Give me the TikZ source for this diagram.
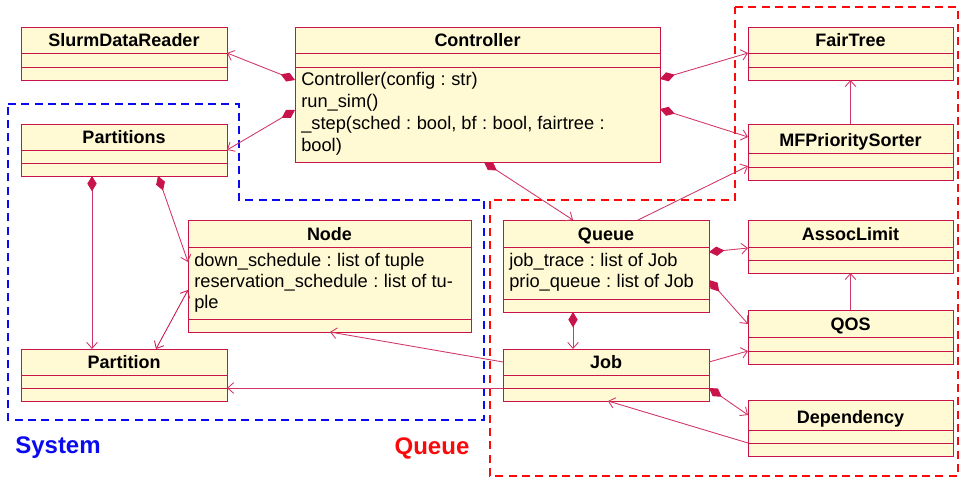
\documentclass[tikz,border=0pt]{standalone}
\usepackage{fontspec}
\setmainfont{Liberation Sans}
\usetikzlibrary{arrows.meta,calc,fit}

\definecolor{umlfill}{RGB}{255,249,212}
\definecolor{umlline}{RGB}{200,20,75}
\definecolor{sysblue}{RGB}{10,10,240}
\definecolor{queuered}{RGB}{250,10,10}

\tikzset{
  clsbox/.style={draw=umlline, line width=0.6pt, fill=umlfill, inner sep=0pt, outer sep=0pt},
  clsrule/.style={draw=umlline, line width=0.6pt},
  clstitle/.style={font=\fontsize{13.5}{15}\selectfont\bfseries, anchor=base, inner sep=0pt},
  clstext/.style={font=\fontsize{13.7}{16}\selectfont, anchor=base west, align=left, inner sep=0pt},
  assoc/.style={draw=umlline!85, line width=0.65pt, -{Straight Barb[length=4.5pt,width=8pt]}},
  compo/.style={draw=umlline!85, line width=0.65pt,
    {Diamond[length=11.5pt,width=7pt,fill=umlline,color=umlline]}-{Straight Barb[length=4.5pt,width=8pt]}},
  both/.style={draw=umlline, line width=0.65pt,
    {Straight Barb[length=4.5pt,width=8pt]}-{Straight Barb[length=4.5pt,width=8pt]}},
  group/.style={line width=1.2pt, dash pattern=on 6pt off 4pt},
  grouplabel/.style={font=\fontsize{18}{20}\selectfont\bfseries, inner sep=0pt}
}

% typed member separator
\newcommand\oftype{\hspace{0.3em}:\hspace{0.3em}}

% #1 name, #2/#3 top-left, #4/#5 bottom-right, #6/#7 divider offsets from the top, #8 class name
\newcommand\umlclass[8]{%
  \node[clsbox, fit={(#2,#3) (#4,#5)}] (#1) {};
  \draw[clsrule] ($(#1.north west)+(0,#6)$) -- ($(#1.north east)+(0,#6)$);
  \draw[clsrule] ($(#1.north west)+(0,#7)$) -- ($(#1.north east)+(0,#7)$);
  \node[clstitle] (#1-title) at ($(#1.north)+(0,#6-6.5)$) {#8};
}

\begin{document}
\begin{tikzpicture}[x=0.75pt, y=-0.75pt]
\useasboundingbox (0,0) rectangle (964,477);

% package frames
\draw[group, sysblue] (8,104) -- (239,104) -- (239,200) -- (484,200) -- (484,420) -- (8,420) -- cycle;
\draw[group, queuered] (735,7) -- (958,7) -- (958,476) -- (490,476) -- (490,200) -- (735,200) -- cycle;
\node[grouplabel, text=sysblue] (syslabel) at (58,448) {System};
\node[grouplabel, text=queuered] (queuelabel) at (432,448) {Queue};

% classes
\umlclass{sdr}{21}{27}{227}{80}{26}{40}{SlurmDataReader}
\umlclass{ctrl}{295}{27}{660}{162}{26}{40}{Controller}
\umlclass{parts}{21}{124}{227}{176}{26}{39}{Partitions}
\umlclass{node}{188}{220}{471}{332}{27}{99}{Node}
\umlclass{part}{21}{349}{227}{401}{26}{39}{Partition}
\umlclass{fair}{748}{27}{953}{80}{26}{40}{FairTree}
\umlclass{mfp}{748}{124}{953}{180}{29}{43}{MFPrioritySorter}
\umlclass{queue}{503}{220}{709}{312}{27}{79}{Queue}
\umlclass{assocl}{748}{220}{953}{273}{27}{40}{AssocLimit}
\umlclass{qos}{748}{310}{953}{364}{27}{41}{QOS}
\umlclass{job}{503}{349}{709}{401}{26}{39}{Job}
\umlclass{dep}{748}{400}{953}{456}{30}{43}{Dependency}

% compartments with members (placed by the baseline of their last line)
\node[clstext, font=\fontsize{13.7}{16.5}\selectfont] (ctrl-ops) at ($(ctrl.north west)+(6,125)$)
  {Controller(config\oftype str)\\run\_sim()\\\_step(sched\oftype bool, bf\oftype bool, fairtree\oftype\\bool)};
\node[clstext] (node-attrs) at ($(node.north west)+(6,89)$)
  {down\_schedule\oftype list of tuple\\reservation\_schedule\oftype list of tu-\\ple};
\node[clstext] (queue-attrs) at ($(queue.north west)+(6,68)$)
  {job\_trace\oftype list of Job\\prio\_queue\oftype list of Job};

% relations
\draw[compo] ($(ctrl.north west)+(0,53)$) -- ($(sdr.north east)+(0,26)$);
\draw[compo] ($(ctrl.north west)+(0,83)$) -- ($(parts.north east)+(0,26)$);
\draw[compo] ($(ctrl.north east)+(0,52)$) -- ($(fair.north west)+(0,26)$);
\draw[compo] ($(ctrl.north east)+(0,82)$) -- ($(mfp.north west)+(0,13)$);
\draw[compo] ($(ctrl.south west)+(189,0)$) -- ($(queue.north west)+(70,0)$);
\draw[assoc] ($(queue.north west)+(135,0)$) -- ($(mfp.north west)+(0,42)$);
\draw[assoc] (mfp.north) -- (fair.south);

\draw[compo] ($(parts.south west)+(71,0)$) -- ($(part.north west)+(71,0)$);
\draw[compo] ($(parts.south west)+(137,0)$) -- ($(node.north west)+(0,42)$);
\draw[both] ($(part.north west)+(135,0)$) -- ($(node.north west)+(0,70)$);
\draw[assoc] ($(job.north west)+(0,13)$) -- ($(node.south west)+(142,0)$);
\draw[assoc] ($(job.north west)+(0,39)$) -- ($(part.north east)+(0,39)$);

\draw[compo] ($(queue.south west)+(70,0)$) -- ($(job.north west)+(70,0)$);
\draw[compo] ($(queue.north east)+(0,32)$) -- ($(assocl.north west)+(0,28)$);
\draw[compo] ($(queue.north east)+(0,60)$) -- ($(qos.north west)+(0,14)$);
\draw[assoc] ($(job.north east)+(0,13)$) -- ($(qos.north west)+(0,41)$);
\draw[assoc] (qos.north) -- (assocl.south);
\draw[compo] ($(job.north east)+(0,39)$) -- ($(dep.north west)+(0,15)$);
\draw[assoc] ($(dep.north west)+(0,43)$) -- ($(job.south west)+(105,0)$);
\end{tikzpicture}
\end{document}
